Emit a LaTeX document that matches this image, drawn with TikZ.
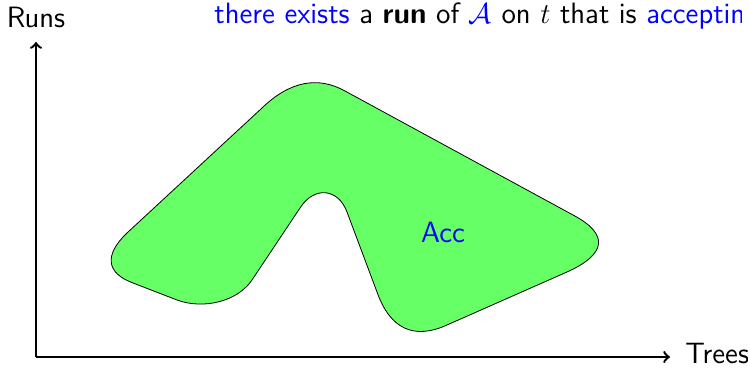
\documentclass[tikz,border=0pt]{standalone}
\begin{document}
\begin{tikzpicture}[x=.5pt,y=-.5pt,font=\sffamily\fontsize{14.7}{18}\selectfont,
    axis/.style={line width=1.2pt,->},
    region/.style={draw=black,fill=green!60}]
  \useasboundingbox (0,0) rectangle (748,368);
  \coordinate (origin) at (36,357);
  \coordinate (ytip) at (36,42);
  \coordinate (xtip) at (670,357);
  \draw[axis] (origin) -- (ytip);
  \draw[axis] (origin) -- (xtip);
  \node[anchor=base,inner sep=0pt] (runs) at (36,28) {Runs};
  \node[anchor=base west,inner sep=0pt] (trees) at (685,363) {Trees};
  \draw[region] (127,233) -- (262,108)
    .. controls (290,81) and (318,76) .. (345,91) -- (573,215)
    .. controls (609,234) and (607,254) .. (567,272) -- (447,325)
    .. controls (414,340) and (390,329) .. (377,292) -- (347,212)
    .. controls (338,188) and (314,186) .. (300,208) -- (252,280)
    .. controls (238,301) and (204,310) .. (177,300) -- (133,283)
    .. controls (106,273) and (104,255) .. (127,233) -- cycle;
  \node[blue,inner sep=0pt] (acc) at (443,232) {Acc};
  \begin{scope}
    \clip (0,0) rectangle (741,40);
    \node[anchor=base west,inner sep=0pt] (claim) at (214,24)
      {\textcolor{blue}{there exists} a \textbf{run} of $\textcolor{blue}{\mathcal{A}}$ on $t$ that is \textcolor{blue}{accepting}};
  \end{scope}
\end{tikzpicture}
\end{document}
